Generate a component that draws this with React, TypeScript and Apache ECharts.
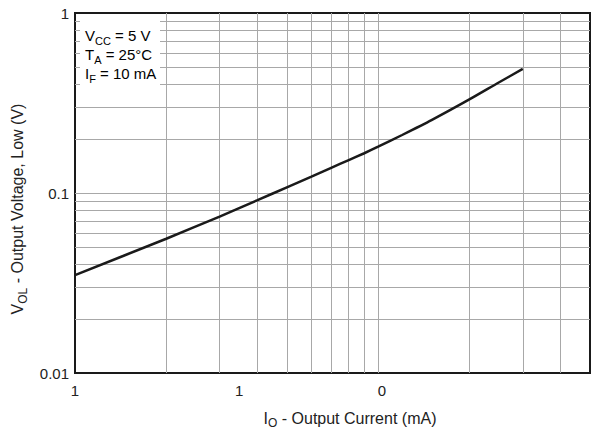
import React, { useEffect, useRef } from "react";
import * as echarts from "echarts";

// Output current (mA) and output voltage low (V)
const CURRENT = [1, 2, 3, 4, 5, 6, 7, 8, 9, 10, 12, 15, 20, 25, 30];
const VOLTAGE = [0.035, 0.0557, 0.074, 0.0912, 0.1076, 0.123, 0.138, 0.1524, 0.1663, 0.1807, 0.21, 0.254, 0.331, 0.411, 0.489];

// Log grid lines
const X_GRID = [2, 3, 4, 5, 6, 7, 8, 9, 10, 20, 30, 40];
const Y_GRID = [0.02, 0.03, 0.04, 0.05, 0.06, 0.07, 0.08, 0.09, 0.1, 0.2, 0.3, 0.4, 0.5, 0.6, 0.7, 0.8, 0.9];

// Tick labels as printed on the reference
const X_LABEL_POS = [1, 3.48, 10.3];
const X_LABEL_TEXT = ["1", "1", "0"];
const Y_LABEL_POS = [0.01, 0.1, 1];
const Y_LABEL_TEXT = ["0.01", "0.1", "1"];

const CONDITIONS = [
  ["V", "CC", " = 5 V"],
  ["T", "A", " = 25°C"],
  ["I", "F", " = 10 mA"],
];

const FONT = "'Liberation Sans', Arial, Helvetica, sans-serif";
const TEXT = "#222";

const makeRich = (size: number) => ({
  n: { fontSize: size, fontFamily: FONT, color: TEXT, verticalAlign: "bottom", padding: [0, 0, 3, 0] },
  s: { fontSize: size - 4, fontFamily: FONT, color: TEXT, verticalAlign: "bottom" },
});

const pick = (pos: number[], txt: string[], v: number) => {
  let best = 0;
  let d = Infinity;
  pos.forEach((p, i) => {
    const dd = Math.abs(Math.log10(p) - Math.log10(v));
    if (dd < d) {
      d = dd;
      best = i;
    }
  });
  return d < 0.02 ? txt[best] : "";
};

export default function App() {
  const ref = useRef<HTMLDivElement>(null);
  useEffect(() => {
    if (!ref.current) return;
    const chart = echarts.init(ref.current, undefined, { renderer: "svg" });
    chart.setOption({
      animation: false,
      backgroundColor: "#fff",
      grid: {
        left: 75,
        right: 1,
        top: 13,
        bottom: 62,
        show: true,
        borderColor: "#1a1a1a",
        borderWidth: 2,
        backgroundColor: "transparent",
      },
      xAxis: {
        type: "log",
        logBase: 10,
        min: 1,
        max: 50,
        name: "{n|I}{s|O}{n| - Output Current (mA)}",
        nameLocation: "middle",
        nameGap: 37,
        nameTextStyle: { rich: makeRich(16), padding: [0, 0, 0, 35] },
        axisLine: { show: true, lineStyle: { color: "#1a1a1a", width: 2 } },
        axisTick: { show: false },
        splitLine: { show: false },
        minorTick: { show: false },
        minorSplitLine: { show: false },
        axisLabel: {
          customValues: X_LABEL_POS,
          fontSize: 15,
          fontFamily: FONT,
          color: TEXT,
          margin: 10,
          formatter: (v: number) => pick(X_LABEL_POS, X_LABEL_TEXT, v),
        },
      },
      yAxis: {
        type: "log",
        logBase: 10,
        min: 0.01,
        max: 1,
        name: "{n|V}{s|OL}{n| - Output Voltage, Low (V)}",
        nameLocation: "middle",
        nameGap: 45,
        nameRotate: 90,
        nameTextStyle: { rich: makeRich(16), padding: [0, 32, 0, 0] },
        axisLine: { show: true, lineStyle: { color: "#1a1a1a", width: 2 } },
        axisTick: { show: false },
        splitLine: { show: false },
        axisLabel: {
          fontSize: 15,
          fontFamily: FONT,
          color: TEXT,
          margin: 6,
          formatter: (v: number) => pick(Y_LABEL_POS, Y_LABEL_TEXT, v),
        },
      },
      graphic: [
        {
          type: "rect",
          z: 3,
          shape: { x: 80, y: 14, width: 80, height: 76 },
          style: { fill: "#fff" },
          silent: true,
        },
        ...CONDITIONS.map((c, i) => ({
          type: "text",
          z: 4,
          x: 85,
          y: 46 + i * 19,
          silent: true,
          style: {
            text: `{n|${c[0]}}{s|${c[1]}}{n|${c[2]}}`,
            rich: makeRich(15),
            verticalAlign: "bottom",
            align: "left",
          },
        })),
      ],
      series: [
        {
          type: "line",
          z: 5,
          data: CURRENT.map((x, i) => [x, VOLTAGE[i]]),
          smooth: 0.25,
          symbol: "none",
          lineStyle: { color: "#1a1a1a", width: 2.5 },
          emphasis: { disabled: true },
          markLine: {
            silent: true,
            z: 1,
            symbol: ["none", "none"],
            label: { show: false },
            lineStyle: { color: "#a8a8a8", width: 1, type: "solid" },
            emphasis: { disabled: true },
            data: [
              ...X_GRID.map((x) => ({ xAxis: x })),
              ...Y_GRID.map((y) => ({ yAxis: y })),
            ],
          },
        },
      ],
    });
    return () => chart.dispose();
  }, []);
  return (
    <div
      ref={ref}
      style={{ position: "fixed", left: 0, top: 0, width: 591, height: 435 }}
    />
  );
}
